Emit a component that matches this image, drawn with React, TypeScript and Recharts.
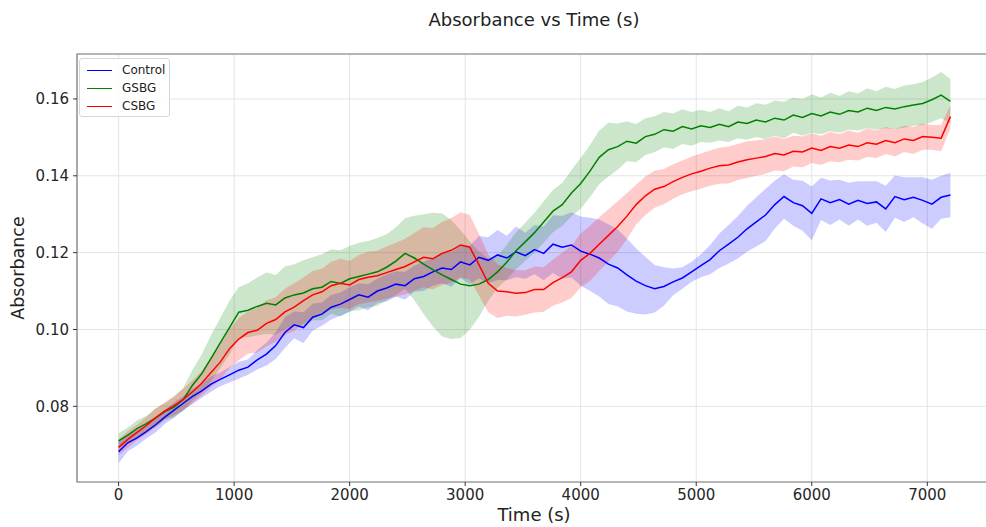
import React from 'react';
import {
  ComposedChart,
  Area,
  Line,
  XAxis,
  YAxis,
  CartesianGrid,
  ReferenceArea,
  Legend,
} from 'recharts';

// Time (s)
const TIMES = [
  0, 80, 160, 240, 320, 400, 480, 560, 640, 720,
  800, 880, 960, 1040, 1120, 1200, 1280, 1360, 1440, 1520,
  1600, 1680, 1760, 1840, 1920, 2000, 2080, 2160, 2240, 2320,
  2400, 2480, 2560, 2640, 2720, 2800, 2880, 2960, 3040, 3120,
  3200, 3280, 3360, 3440, 3520, 3600, 3680, 3760, 3840, 3920,
  4000, 4080, 4160, 4240, 4320, 4400, 4480, 4560, 4640, 4720,
  4800, 4880, 4960, 5040, 5120, 5200, 5280, 5360, 5440, 5520,
  5600, 5680, 5760, 5840, 5920, 6000, 6080, 6160, 6240, 6320,
  6400, 6480, 6560, 6640, 6720, 6800, 6880, 6960, 7040, 7120,
  7200,
];

// Control mean absorbance
const CONTROL = [
  0.0682, 0.0705, 0.0718, 0.0734, 0.0752, 0.0772, 0.0790, 0.0808, 0.0826, 0.0840,
  0.0858, 0.0870, 0.0882, 0.0894, 0.0902, 0.0921, 0.0936, 0.0958, 0.0992, 0.1012,
  0.1005, 0.1032, 0.1040, 0.1058, 0.1066, 0.1078, 0.1090, 0.1084, 0.1100, 0.1108,
  0.1118, 0.1114, 0.1132, 0.1138, 0.1150, 0.1160, 0.1156, 0.1176, 0.1168, 0.1188,
  0.1180, 0.1194, 0.1186, 0.1202, 0.1192, 0.1208, 0.1198, 0.1222, 0.1214, 0.1220,
  0.1204, 0.1196, 0.1186, 0.1170, 0.1160, 0.1142, 0.1126, 0.1114, 0.1106, 0.1112,
  0.1124, 0.1134, 0.1150, 0.1166, 0.1182, 0.1205, 0.1222, 0.1240, 0.1262, 0.1280,
  0.1298, 0.1325, 0.1346, 0.1330, 0.1322, 0.1302, 0.1340, 0.1330, 0.1338, 0.1326,
  0.1336, 0.1328, 0.1332, 0.1314, 0.1346, 0.1338, 0.1344, 0.1336, 0.1326, 0.1344,
  0.1350,
];
// Control band half-width
const CONTROL_SPREAD = [
  0.0030, 0.0022, 0.0020, 0.0018, 0.0020, 0.0018, 0.0020, 0.0018, 0.0020, 0.0018,
  0.0020, 0.0018, 0.0020, 0.0022, 0.0020, 0.0025, 0.0030, 0.0035, 0.0040, 0.0035,
  0.0040, 0.0035, 0.0030, 0.0032, 0.0030, 0.0032, 0.0030, 0.0034, 0.0032, 0.0035,
  0.0033, 0.0036, 0.0034, 0.0038, 0.0036, 0.0040, 0.0045, 0.0042, 0.0050, 0.0055,
  0.0060, 0.0065, 0.0058, 0.0066, 0.0060, 0.0064, 0.0070, 0.0075, 0.0082, 0.0085,
  0.0090, 0.0095, 0.0100, 0.0104, 0.0100, 0.0095, 0.0085, 0.0075, 0.0062, 0.0050,
  0.0035, 0.0028, 0.0026, 0.0030, 0.0038, 0.0045, 0.0050, 0.0055, 0.0060, 0.0064,
  0.0068, 0.0062, 0.0058, 0.0060, 0.0065, 0.0070, 0.0055, 0.0058, 0.0052, 0.0056,
  0.0050, 0.0058, 0.0054, 0.0060, 0.0055, 0.0058, 0.0052, 0.0060, 0.0064, 0.0056,
  0.0058,
];

// GSBG mean absorbance
const GSBG = [
  0.0710, 0.0725, 0.0742, 0.0755, 0.0770, 0.0786, 0.0798, 0.0818, 0.0855, 0.0885,
  0.0925, 0.0965, 0.1005, 0.1045, 0.1050, 0.1060, 0.1068, 0.1064, 0.1082, 0.1090,
  0.1095, 0.1106, 0.1110, 0.1125, 0.1120, 0.1132, 0.1138, 0.1144, 0.1150, 0.1162,
  0.1178, 0.1198, 0.1186, 0.1170, 0.1156, 0.1142, 0.1130, 0.1118, 0.1114, 0.1118,
  0.1130, 0.1150, 0.1175, 0.1205, 0.1228, 0.1252, 0.1280, 0.1308, 0.1325, 0.1355,
  0.1380, 0.1412, 0.1448, 0.1468, 0.1476, 0.1490, 0.1485, 0.1502, 0.1508, 0.1520,
  0.1516, 0.1528, 0.1522, 0.1530, 0.1526, 0.1534, 0.1528, 0.1540, 0.1536, 0.1545,
  0.1540, 0.1550, 0.1545, 0.1558, 0.1552, 0.1562, 0.1556, 0.1566, 0.1560, 0.1570,
  0.1566, 0.1576, 0.1570, 0.1578, 0.1574, 0.1580, 0.1584, 0.1588, 0.1598, 0.1610,
  0.1594,
];
const GSBG_SPREAD = [
  0.0020, 0.0020, 0.0022, 0.0020, 0.0024, 0.0022, 0.0026, 0.0030, 0.0040, 0.0050,
  0.0060, 0.0065, 0.0070, 0.0065, 0.0070, 0.0075, 0.0080, 0.0078, 0.0082, 0.0080,
  0.0085, 0.0082, 0.0086, 0.0084, 0.0086, 0.0085, 0.0088, 0.0086, 0.0088, 0.0086,
  0.0088, 0.0092, 0.0110, 0.0130, 0.0148, 0.0160, 0.0155, 0.0140, 0.0115, 0.0085,
  0.0055, 0.0042, 0.0045, 0.0048, 0.0050, 0.0052, 0.0054, 0.0055, 0.0056, 0.0060,
  0.0066, 0.0068, 0.0070, 0.0070, 0.0060, 0.0052, 0.0050, 0.0048, 0.0047, 0.0046,
  0.0046, 0.0045, 0.0044, 0.0042, 0.0040, 0.0042, 0.0040, 0.0042, 0.0042, 0.0044,
  0.0045, 0.0046, 0.0048, 0.0046, 0.0048, 0.0050, 0.0048, 0.0050, 0.0048, 0.0050,
  0.0048, 0.0052, 0.0050, 0.0054, 0.0052, 0.0055, 0.0054, 0.0056, 0.0058, 0.0060,
  0.0058,
];

// CSBG mean absorbance
const CSBG = [
  0.0693, 0.0714, 0.0732, 0.0750, 0.0770, 0.0788, 0.0802, 0.0818, 0.0838, 0.0860,
  0.0888, 0.0915, 0.0950, 0.0975, 0.0992, 0.0998, 0.1016, 0.1026, 0.1046, 0.1058,
  0.1075, 0.1090, 0.1098, 0.1114, 0.1120, 0.1116, 0.1130, 0.1136, 0.1140, 0.1148,
  0.1156, 0.1164, 0.1176, 0.1188, 0.1184, 0.1198, 0.1206, 0.1220, 0.1214, 0.1168,
  0.1120, 0.1100, 0.1098, 0.1094, 0.1096, 0.1104, 0.1104, 0.1122, 0.1135, 0.1150,
  0.1180, 0.1198, 0.1222, 0.1245, 0.1268, 0.1295, 0.1325, 0.1348, 0.1365, 0.1372,
  0.1385, 0.1396, 0.1405, 0.1412, 0.1420, 0.1426, 0.1428, 0.1436, 0.1442, 0.1446,
  0.1450, 0.1458, 0.1454, 0.1464, 0.1462, 0.1472, 0.1466, 0.1476, 0.1472, 0.1480,
  0.1476, 0.1486, 0.1482, 0.1492, 0.1486, 0.1496, 0.1492, 0.1502, 0.1500, 0.1498,
  0.1554,
];
const CSBG_SPREAD = [
  0.0020, 0.0022, 0.0020, 0.0022, 0.0024, 0.0022, 0.0025, 0.0028, 0.0030, 0.0032,
  0.0038, 0.0045, 0.0050, 0.0055, 0.0055, 0.0058, 0.0060, 0.0058, 0.0060, 0.0062,
  0.0060, 0.0062, 0.0060, 0.0062, 0.0064, 0.0062, 0.0064, 0.0066, 0.0065, 0.0068,
  0.0070, 0.0072, 0.0075, 0.0078, 0.0080, 0.0082, 0.0084, 0.0085, 0.0084, 0.0080,
  0.0075, 0.0070, 0.0062, 0.0060, 0.0058, 0.0060, 0.0058, 0.0060, 0.0065, 0.0068,
  0.0070, 0.0072, 0.0070, 0.0068, 0.0066, 0.0060, 0.0052, 0.0050, 0.0048, 0.0046,
  0.0045, 0.0044, 0.0045, 0.0046, 0.0046, 0.0047, 0.0048, 0.0047, 0.0048, 0.0046,
  0.0045, 0.0044, 0.0042, 0.0040, 0.0040, 0.0039, 0.0038, 0.0038, 0.0037, 0.0038,
  0.0036, 0.0037, 0.0036, 0.0035, 0.0036, 0.0034, 0.0035, 0.0034, 0.0032, 0.0034,
  0.0030,
];

const X_TICKS = [0, 1000, 2000, 3000, 4000, 5000, 6000, 7000];
const Y_TICKS = [0.08, 0.1, 0.12, 0.14, 0.16];
const X_DOMAIN = [-360, 7560];
const Y_DOMAIN = [0.0603, 0.1717];

const SERIES = [
  { key: 'control', name: 'Control', color: '#0000ff' },
  { key: 'gsbg', name: 'GSBG', color: '#008000' },
  { key: 'csbg', name: 'CSBG', color: '#ff0000' },
];

const band = (m: number[], s: number[], i: number) => [m[i] - s[i], m[i] + s[i]];

const data = TIMES.map((t, i) => ({
  t,
  control: CONTROL[i],
  gsbg: GSBG[i],
  csbg: CSBG[i],
  controlBand: band(CONTROL, CONTROL_SPREAD, i),
  gsbgBand: band(GSBG, GSBG_SPREAD, i),
  csbgBand: band(CSBG, CSBG_SPREAD, i),
}));

const FONT = '"DejaVu Sans", sans-serif';

const renderLegend = () => (
  <div
    style={{
      width: 91,
      height: 59,
      boxSizing: 'border-box',
      border: '1px solid #d6d6d6',
      borderRadius: 3,
      background: 'rgba(255,255,255,0.85)',
      padding: '2px 0 0 7px',
      fontFamily: FONT,
      fontSize: 12,
      color: '#222',
    }}
  >
    {SERIES.map((s) => (
      <div key={s.key} style={{ display: 'flex', alignItems: 'center', height: 18, whiteSpace: 'nowrap' }}>
        <span style={{ display: 'inline-block', width: 25, height: 0, borderTop: `1.5px solid ${s.color}`, marginRight: 10 }} />
        {s.name}
      </div>
    ))}
  </div>
);

export default function App() {
  const tickStyle = { fontSize: 15, fill: '#262626', fontFamily: FONT };
  return (
    <div
      style={{
        position: 'absolute',
        left: 0,
        top: 0,
        width: 986,
        height: 527,
        overflow: 'hidden',
        background: '#fff',
        fontFamily: FONT,
      }}
    >
      <ComposedChart width={1000} height={527} data={data} margin={{ top: 54, right: 8, bottom: 15, left: 0 }}>
        <CartesianGrid stroke="#e4e4e4" strokeWidth={1} />
        <XAxis
          type="number"
          dataKey="t"
          domain={X_DOMAIN}
          ticks={X_TICKS}
          allowDataOverflow
          interval={0}
          axisLine={false}
          tickLine={{ stroke: '#333' }}
          tickSize={4}
          tickMargin={3}
          height={30}
          tick={tickStyle}
        />
        <YAxis
          type="number"
          domain={Y_DOMAIN}
          ticks={Y_TICKS}
          allowDataOverflow
          interval={0}
          axisLine={false}
          tickLine={{ stroke: '#333' }}
          tickSize={4}
          tickMargin={4}
          width={77}
          tick={tickStyle}
          tickFormatter={(v: number) => v.toFixed(2)}
        />
        {SERIES.map((s) => (
          <Area
            key={s.key + 'Band'}
            type="linear"
            dataKey={s.key + 'Band'}
            stroke="none"
            fill={s.color}
            fillOpacity={0.2}
            isAnimationActive={false}
            dot={false}
            activeDot={false}
            legendType="none"
          />
        ))}
        {SERIES.map((s) => (
          <Line
            key={s.key}
            type="linear"
            dataKey={s.key}
            name={s.name}
            stroke={s.color}
            strokeWidth={1.5}
            dot={false}
            activeDot={false}
            isAnimationActive={false}
          />
        ))}
        <ReferenceArea
          x1={X_DOMAIN[0]}
          x2={X_DOMAIN[1]}
          y1={Y_DOMAIN[0]}
          y2={Y_DOMAIN[1]}
          fill="none"
          stroke="#7a7a7a"
          strokeWidth={1.2}
          ifOverflow="visible"
        />
        <Legend
          content={renderLegend}
          layout="horizontal"
          verticalAlign="middle"
          align="center"
          wrapperStyle={{ left: 79, top: 58, width: 91, height: 59 }}
        />
      </ComposedChart>
      <div
        style={{
          position: 'absolute',
          left: 534,
          top: 10,
          transform: 'translateX(-50%)',
          fontSize: 18,
          lineHeight: '20px',
          color: '#222',
          whiteSpace: 'nowrap',
        }}
      >
        Absorbance vs Time (s)
      </div>
      <div
        style={{
          position: 'absolute',
          left: 534,
          top: 505,
          transform: 'translateX(-50%)',
          fontSize: 18,
          lineHeight: '20px',
          color: '#222',
          whiteSpace: 'nowrap',
        }}
      >
        Time (s)
      </div>
      <div
        style={{
          position: 'absolute',
          left: 18,
          top: 268,
          transform: 'translate(-50%, -50%) rotate(-90deg)',
          fontSize: 17.5,
          lineHeight: '20px',
          color: '#222',
          whiteSpace: 'nowrap',
        }}
      >
        Absorbance
      </div>
    </div>
  );
}
